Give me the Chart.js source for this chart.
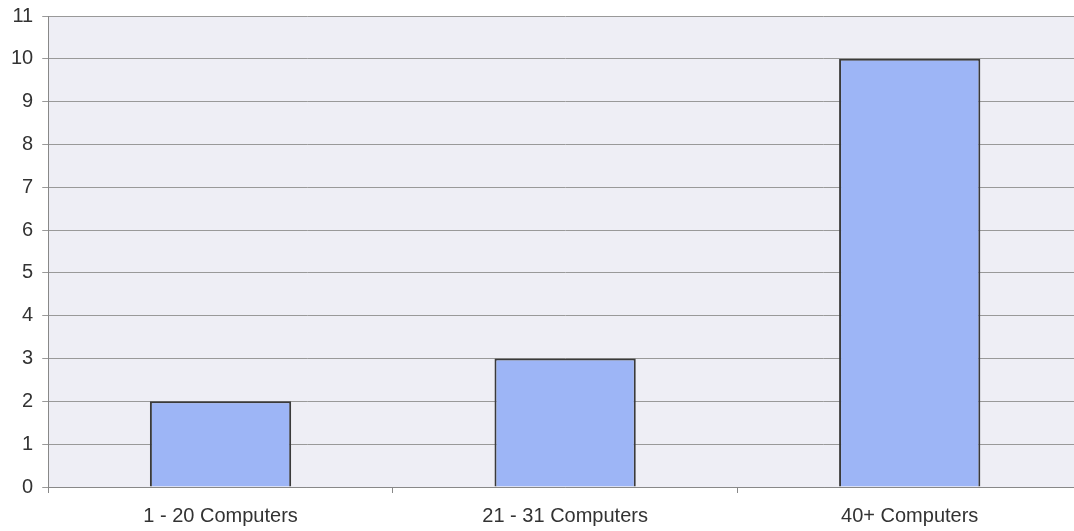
<!DOCTYPE html>
<html lang="en">

<head>
    <meta charset="UTF-8">
    <title>Computers</title>
    <style>
        html, body { margin: 0; padding: 0; background: #fff; overflow: hidden; }
        #wrap { width: 1085px; height: 536px; position: relative; margin-top: -5px; }
    </style>
</head>

<body>

    <div id="wrap">
        <canvas id="myChart"></canvas>
    </div>

    <script src="https://cdn.jsdelivr.net/npm/chart.js@4.4.1/dist/chart.umd.min.js"></script>

    <script>
        var categories = ['1 - 20 Computers', '21 - 31 Computers', '40+ Computers'];
        var counts = [2, 3, 10];
        var yTicks = [0, 1, 2, 3, 4, 5, 6, 7, 8, 9, 10, 11];

        // plot area fill behind the bars
        var plotBackground = {
            id: 'plotBackground',
            beforeDraw: function (chart) {
                var a = chart.chartArea;
                var ctx = chart.ctx;
                ctx.save();
                ctx.fillStyle = '#eeeef5';
                ctx.fillRect(a.left, a.top, a.right - a.left, a.bottom - a.top);
                ctx.restore();
            }
        };

        document.addEventListener("DOMContentLoaded", function () {
            var ctx = document.getElementById('myChart').getContext('2d');
            new Chart(ctx, {
                type: 'bar',
                data: {
                    labels: categories,
                    datasets: [{
                        data: counts,
                        backgroundColor: '#9db5f6',
                        borderColor: '#3a3a3a',
                        borderWidth: 2,
                        barPercentage: 0.41,
                        categoryPercentage: 1
                    }]
                },
                plugins: [plotBackground],
                options: {
                    responsive: true,
                    maintainAspectRatio: false,
                    animation: false,
                    layout: { padding: { left: 2, right: 3, top: 1, bottom: 0 } },
                    plugins: {
                        legend: { display: false },
                        tooltip: { enabled: false }
                    },
                    scales: {
                        x: {
                            afterFit: function (axis) { axis.height = 44; },
                            grid: {
                                offset: true,
                                drawOnChartArea: false,
                                tickLength: 6,
                                color: '#888'
                            },
                            border: { color: '#888' },
                            ticks: {
                                padding: 11,
                                color: '#333',
                                font: { family: 'Liberation Sans', size: 20 }
                            }
                        },
                        y: {
                            min: 0,
                            max: 11,
                            afterBuildTicks: function (axis) {
                                axis.ticks = yTicks.map(function (v) { return { value: v }; });
                            },
                            grid: {
                                color: '#999',
                                tickLength: 6,
                                lineWidth: 1
                            },
                            border: { color: '#888' },
                            ticks: {
                                padding: 9,
                                color: '#333',
                                font: { family: 'Liberation Sans', size: 20 }
                            }
                        }
                    }
                }
            });
        });
    </script>

</body>

</html>
